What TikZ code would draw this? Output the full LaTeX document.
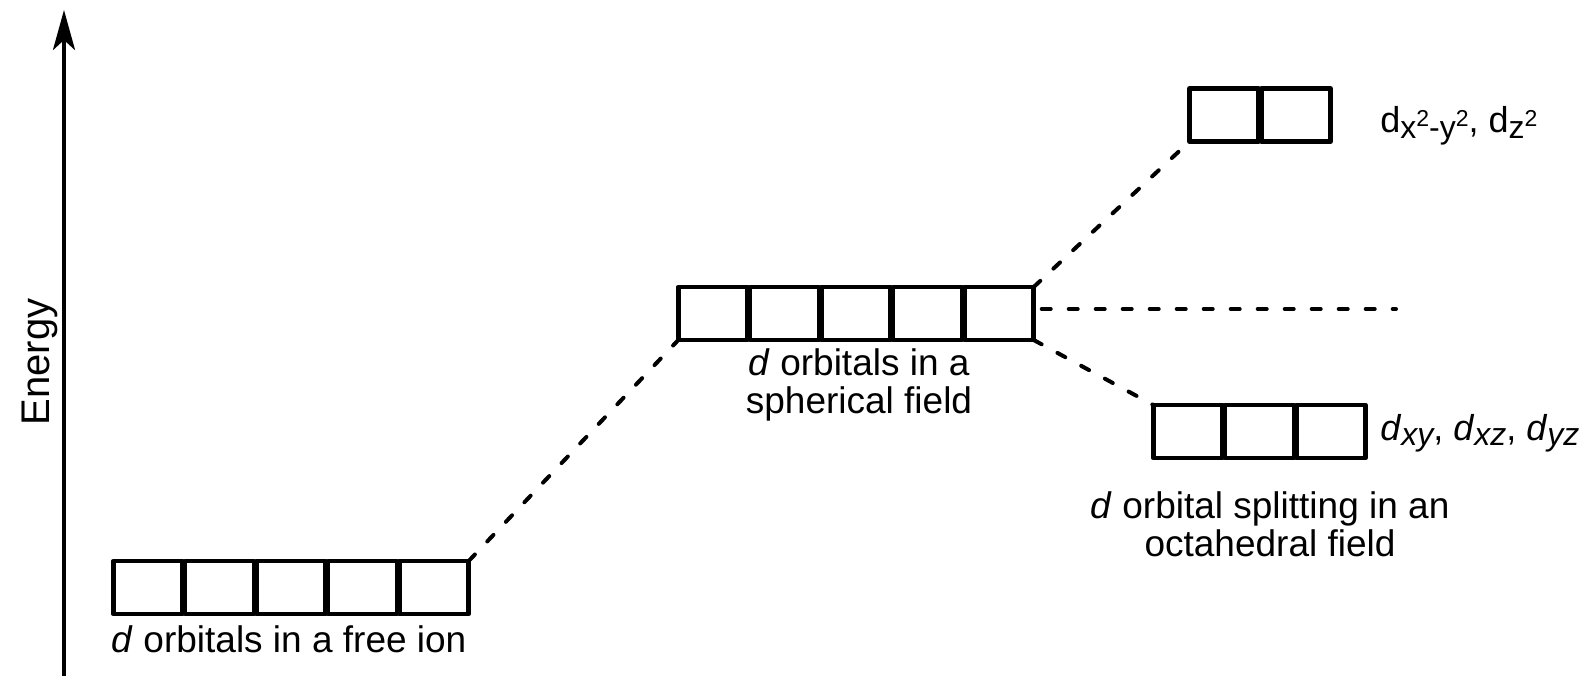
\documentclass[tikz,border=0pt]{standalone}
\usepackage{fontspec}
\setmainfont{Liberation Sans}
\usetikzlibrary{arrows.meta,calc}
\newcommand\orbsub[1]{\raisebox{-3pt}{\fontsize{16pt}{16pt}\selectfont #1}}
\newcommand\orbsubi[1]{\raisebox{-2.5pt}{\fontsize{16pt}{16pt}\selectfont\itshape #1}}
\newcommand\orbsq{\raisebox{6pt}{\fontsize{11.5pt}{12pt}\selectfont 2}}
\begin{document}
\begin{tikzpicture}[x=0.5pt,y=-0.5pt,
  orb/.style={draw,line width=2.25pt,line join=round,minimum width=34.5pt,minimum height=26.5pt,inner sep=0pt,outer sep=0pt},
  conn/.style={line width=2pt,line cap=round,dash pattern=on 4.5pt off 9pt},
  lbl/.style={font=\fontsize{18.5pt}{19pt}\selectfont,inner sep=0pt,align=center},
  sublbl/.style={font=\fontsize{18pt}{19pt}\selectfont,inner sep=0pt,anchor=base west},
]
\useasboundingbox (0,0) rectangle (1585,676);

% energy axis
\coordinate (ybot) at (64,676);
\coordinate (ytop) at (64,10);
\draw[line width=2pt,-{Stealth[length=20pt,width=11pt,inset=5pt]}] (ybot) -- (ytop);
\node[lbl,font=\fontsize{20pt}{20pt}\selectfont,rotate=90] (energy) at (40,362) {Energy};

% orbital boxes
\foreach \i in {1,...,5} {
  \node[orb] (f\i) at ({112+71.6*(\i-0.5)},587.5) {};
  \node[orb] (s\i) at ({677+71.6*(\i-0.5)},313.5) {};
}
\foreach \i in {1,2} \node[orb] (t\i) at ({1188+72*(\i-0.5)},115) {};
\foreach \i in {1,2,3} \node[orb] (l\i) at ({1152+71.6*(\i-0.5)},431.5) {};

% connectors
\draw[conn] (f5.north east) -- (s1.south west);
\draw[conn] (s5.north east) -- (t1.south west);
\draw[conn] (s5.south east) -- (l1.north west);
\coordinate (hend) at (1396,309);
\draw[conn,shorten <=4pt] (s5.east |- hend) -- (hend);

% labels
\node[lbl,anchor=base] (freelbl) at (289,652) {\textit{d} orbitals in a free ion};
\node[lbl,anchor=north] (sphlbl) at (859,348) {\textit{d} orbitals in a\\spherical field};
\node[lbl,anchor=north] (octlbl) at (1270,491) {\textit{d} orbital splitting in an\\octahedral field};
\node[sublbl] (toplbl) at (1380,132) {d\orbsub{x\orbsq-y\orbsq}, d\orbsub{z\orbsq}};
\node[sublbl] (lowlbl) at (1380,440) {\textit{d}\orbsubi{xy}, \textit{d}\orbsubi{xz}, \textit{d}\orbsubi{yz}};
\end{tikzpicture}
\end{document}
